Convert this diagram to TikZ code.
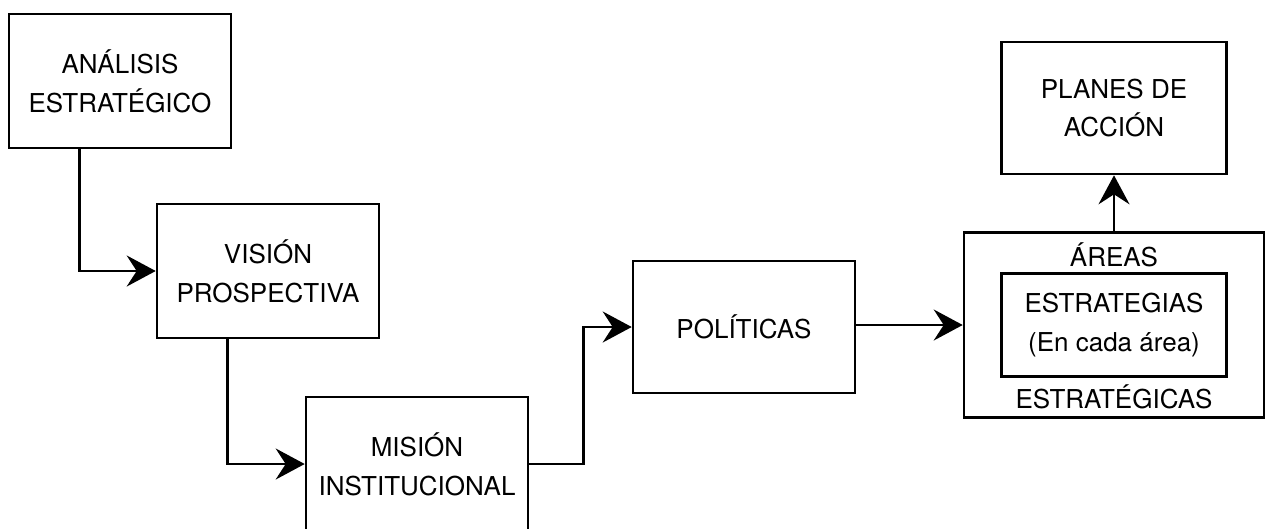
\documentclass[tikz,border=0pt]{standalone}
\usepackage{fontspec}
\setmainfont{TeX Gyre Heros}
\usetikzlibrary{arrows.meta}

\begin{document}
\begin{tikzpicture}[x=0.02cm, y=-0.02cm,
	caja/.style={draw, line width=1.5pt, align=center, inner sep=0pt, font=\fontsize{14.8}{22}\selectfont},
	texto/.style={inner sep=0pt, font=\fontsize{14.8}{22}\selectfont},
	flecha/.style={line width=1.5pt, -{Stealth[length=5.8mm, width=6.2mm, inset=2mm]}}]
			%%%%% START %%%%%
			
			\useasboundingbox (0,0) rectangle (1267,528);
			
			\node[caja, minimum width=4.44cm, minimum height=2.68cm] (analisis) at (120, 81) {ANÁLISIS\\ESTRATÉGICO};
			\node[caja, minimum width=4.44cm, minimum height=2.68cm] (vision) at (268, 271) {VISIÓN\\PROSPECTIVA};
			\node[caja, minimum width=4.44cm, minimum height=2.68cm] (mision) at (417, 464) {MISIÓN\\INSTITUCIONAL};
			\node[caja, minimum width=4.44cm, minimum height=2.64cm] (politicas) at (744, 327) {POLÍTICAS};
			
			\node[caja, minimum width=6.0cm, minimum height=3.7cm] (areas) at (1114, 325) {};
			\node[caja, minimum width=4.5cm, minimum height=2.06cm] (estrategias) at (1114, 325) {ESTRATEGIAS\\(En cada área)};
			\node[texto] (areastxt) at (1114, 255) {ÁREAS};
			\node[texto] (estratxt) at (1114, 397) {ESTRATÉGICAS};
			
			\node[caja, minimum width=4.5cm, minimum height=2.64cm] (planes) at (1114, 108) {PLANES DE\\ACCIÓN};
			
			\draw[flecha] (analisis.south west) ++(72,0) |- (vision.west);
			\draw[flecha] (vision.south west) ++(72,0) |- (mision.west);
			\draw[flecha] (mision.east) -- ++(54,0) |- (politicas.west);
			\draw[flecha] (politicas.east |- areas.west) -- (areas.west);
			\draw[flecha] (areas.north) -- (planes.south);
			
			%%%%% END %%%%%
\end{tikzpicture}
\end{document}
